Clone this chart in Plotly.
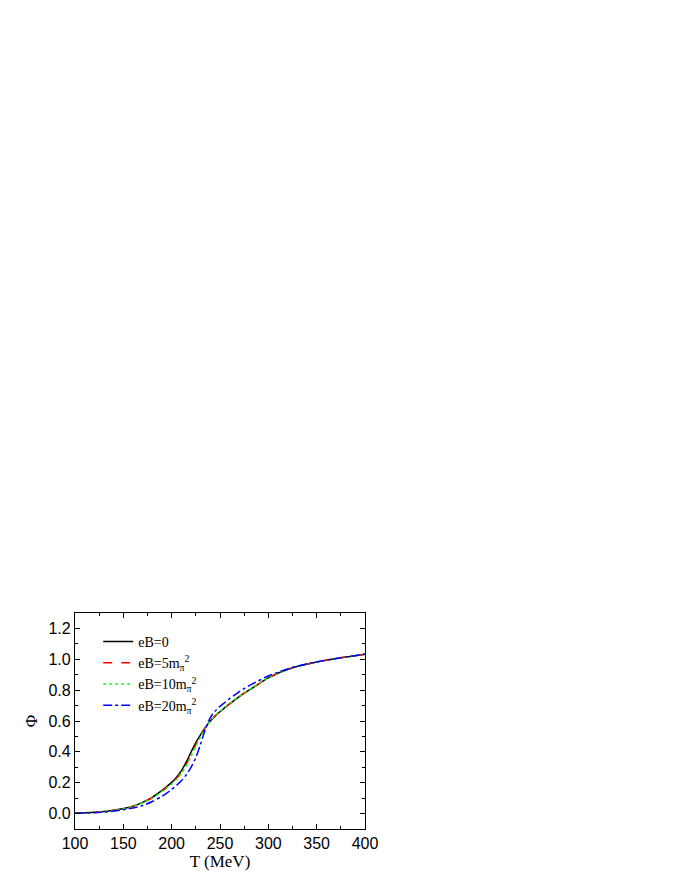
import plotly.graph_objects as go

T = [100, 120, 140, 160, 170, 180, 190, 195, 200, 205, 210, 215, 220, 225, 230, 235, 240, 245, 250, 255, 260, 265, 270, 275, 285, 300, 325, 350, 375, 400]
phi_eB0 = [0.003, 0.008, 0.022, 0.048, 0.073, 0.105, 0.150, 0.175, 0.202, 0.236, 0.277, 0.333, 0.398, 0.460, 0.512, 0.560, 0.600, 0.632, 0.660, 0.687, 0.712, 0.735, 0.758, 0.780, 0.820, 0.880, 0.945, 0.982, 1.010, 1.033]
phi_eB5 = [0.003, 0.008, 0.021, 0.047, 0.071, 0.102, 0.146, 0.170, 0.196, 0.228, 0.266, 0.318, 0.382, 0.447, 0.504, 0.556, 0.600, 0.632, 0.660, 0.687, 0.712, 0.735, 0.758, 0.780, 0.820, 0.880, 0.945, 0.982, 1.010, 1.033]
phi_eB10 = [0.003, 0.008, 0.021, 0.046, 0.070, 0.100, 0.144, 0.167, 0.192, 0.223, 0.260, 0.309, 0.370, 0.437, 0.498, 0.554, 0.602, 0.635, 0.663, 0.690, 0.715, 0.738, 0.760, 0.782, 0.822, 0.881, 0.945, 0.982, 1.010, 1.033]
phi_eB20 = [0.002, 0.006, 0.016, 0.036, 0.052, 0.078, 0.112, 0.133, 0.157, 0.182, 0.212, 0.250, 0.300, 0.362, 0.452, 0.548, 0.622, 0.664, 0.695, 0.720, 0.745, 0.768, 0.790, 0.810, 0.845, 0.892, 0.947, 0.983, 1.010, 1.033]

series = [
    ("eB=0", phi_eB0, "black", "solid"),
    ("eB=5m<sub>π</sub><sup>2</sup>", phi_eB5, "red", "dash"),
    ("eB=10m<sub>π</sub><sup>2</sup>", phi_eB10, "#22ee22", "dot"),
    ("eB=20m<sub>π</sub><sup>2</sup>", phi_eB20, "blue", "dashdot"),
]

fig = go.Figure()
for name, y, c, d in series:
    fig.add_trace(go.Scatter(x=T, y=y, mode="lines", name=name,
                             line=dict(color=c, dash=d, width=1.5, shape="spline", smoothing=0.8)))

axis_common = dict(showline=True, linecolor="black", linewidth=1.2, mirror="allticks",
                   ticks="inside", ticklen=5, tickcolor="black", showgrid=False, zeroline=False,
                   tickfont=dict(family="Liberation Sans, Arial", size=16, color="black"))
fig.update_xaxes(range=[100, 400], dtick=50, tick0=100,
                 minor=dict(ticks="inside", ticklen=3, dtick=25, tickcolor="black"),
                 title=dict(text="T (MeV)", font=dict(family="Liberation Serif, Times New Roman", size=17, color="black"), standoff=2),
                 **axis_common)
fig.update_yaxes(range=[-0.1, 1.3], dtick=0.2, tick0=0, tickformat=".1f",
                 minor=dict(ticks="inside", ticklen=3, dtick=0.1, tickcolor="black"),
                 title=dict(text="Φ", font=dict(family="Liberation Serif, Times New Roman", size=17, color="black"), standoff=6),
                 **axis_common)
fig.update_layout(
    width=680, height=880,
    margin=dict(l=67, r=323, t=605, b=59),
    paper_bgcolor="white", plot_bgcolor="white",
    legend=dict(x=0.08, y=0.94, xanchor="left", yanchor="top", bgcolor="rgba(0,0,0,0)",
                font=dict(family="Liberation Serif, Times New Roman", size=14, color="black"),
                tracegroupgap=0, itemwidth=30),
)
fig.write_html("out.html")
